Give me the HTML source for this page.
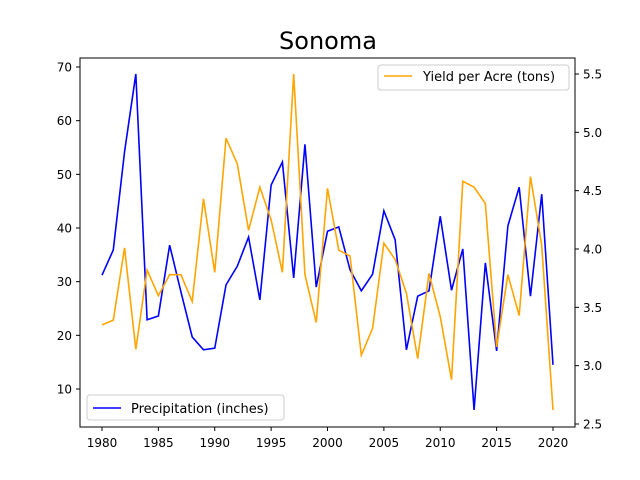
<!DOCTYPE html>
<html><head><meta charset="utf-8"><style>
body{margin:0;background:#fff}
svg{display:block;font-family:"DejaVu Sans","Liberation Sans",sans-serif}
</style></head><body>
<svg id="chart" width="640" height="480">
<rect width="640" height="480" fill="#fff"/>
<text x="328" y="49" font-size="24" text-anchor="middle">Sonoma</text>
<g id="marks"></g>
<rect x="80" y="58" width="495" height="369" fill="none" stroke="#000" stroke-width="1"/>
<g id="axes"></g>
<g>
<rect x="87" y="395" width="197" height="25" rx="3" fill="#fff" fill-opacity="0.8" stroke="#ccc"/>
<line x1="93" y1="408" x2="121" y2="408" stroke="#0000ff" stroke-width="1.5"/>
<text x="131" y="413" font-size="13">Precipitation (inches)</text>
</g>
<g>
<rect x="378" y="65" width="191" height="25" rx="3" fill="#fff" fill-opacity="0.8" stroke="#ccc"/>
<line x1="384" y1="76" x2="412" y2="76" stroke="#ffa500" stroke-width="1.5"/>
<text x="423" y="81" font-size="13">Yield per Acre (tons)</text>
</g>
</svg>
<script>
const years=[];for(let y=1980;y<=2020;y++)years.push(y);
const precipitation=[31.2,35.9,54.2,68.7,22.9,23.6,36.8,28.1,19.7,17.3,17.6,29.4,32.9,38.3,26.6,48,52.3,30.7,55.6,29,39.4,40.2,32.2,28.3,31.4,43.2,37.8,17.3,27.3,28.3,42.2,28.4,36.1,6.1,33.5,17.1,40.4,47.6,27.3,46.3,14.5];
const yieldPerAcre=[3.35,3.39,4.01,3.14,3.82,3.6,3.78,3.78,3.55,4.43,3.8,4.95,4.73,4.16,4.53,4.25,3.8,5.5,3.78,3.37,4.52,3.99,3.94,3.09,3.32,4.05,3.91,3.62,3.06,3.79,3.42,2.88,4.58,4.53,4.39,3.16,3.78,3.43,4.62,4.03,2.62];
const xTicks=[1980,1985,1990,1995,2000,2005,2010,2015,2020];
const leftTicks=[10,20,30,40,50,60,70];
const rightTicks=[2.5,3.0,3.5,4.0,4.5,5.0,5.5];
const NS="http://www.w3.org/2000/svg";
const xS=v=>102+(v-1980)*(553-102)/40;
const yL=v=>389-(v-10)*(389-67)/60;
const yR=v=>424-(v-2.5)*(424-74)/3;
const marks=document.getElementById('marks'),axes=document.getElementById('axes');
function line(x1,y1,x2,y2,g){const l=document.createElementNS(NS,'line');l.setAttribute('x1',x1);l.setAttribute('y1',y1);l.setAttribute('x2',x2);l.setAttribute('y2',y2);l.setAttribute('stroke','#000');g.appendChild(l);return l;}
function text(x,y,s,anchor,g){const t=document.createElementNS(NS,'text');t.setAttribute('x',x);t.setAttribute('y',y);t.setAttribute('font-size','12');t.setAttribute('text-anchor',anchor);t.textContent=s;g.appendChild(t);return t;}
xTicks.forEach(v=>{const x=xS(v);const l=line(x,427,x,431,axes);


const t=text(x,447,String(v),'middle',axes);

});
leftTicks.forEach(v=>{const y=yL(v);const l=line(76,y,80,y,axes);


const t=text(72,y+4.5,String(v),'end',axes);

});
rightTicks.forEach(v=>{const y=yR(v);const l=line(575,y,579,y,axes);


const t=text(583,y+4.5,v.toFixed(1),'start',axes);

});
function series(vals,ys,color,name){const p=document.createElementNS(NS,'polyline');
p.setAttribute('points',vals.map((v,i)=>xS(years[i])+','+ys(v)).join(' '));
p.setAttribute('fill','none');p.setAttribute('stroke',color);p.setAttribute('stroke-width','1.6');


marks.appendChild(p);}
series(precipitation,yL,'#0000ff','precipitation-line');
series(yieldPerAcre,yR,'#ffa500','yield-line');
</script>
</body></html>
